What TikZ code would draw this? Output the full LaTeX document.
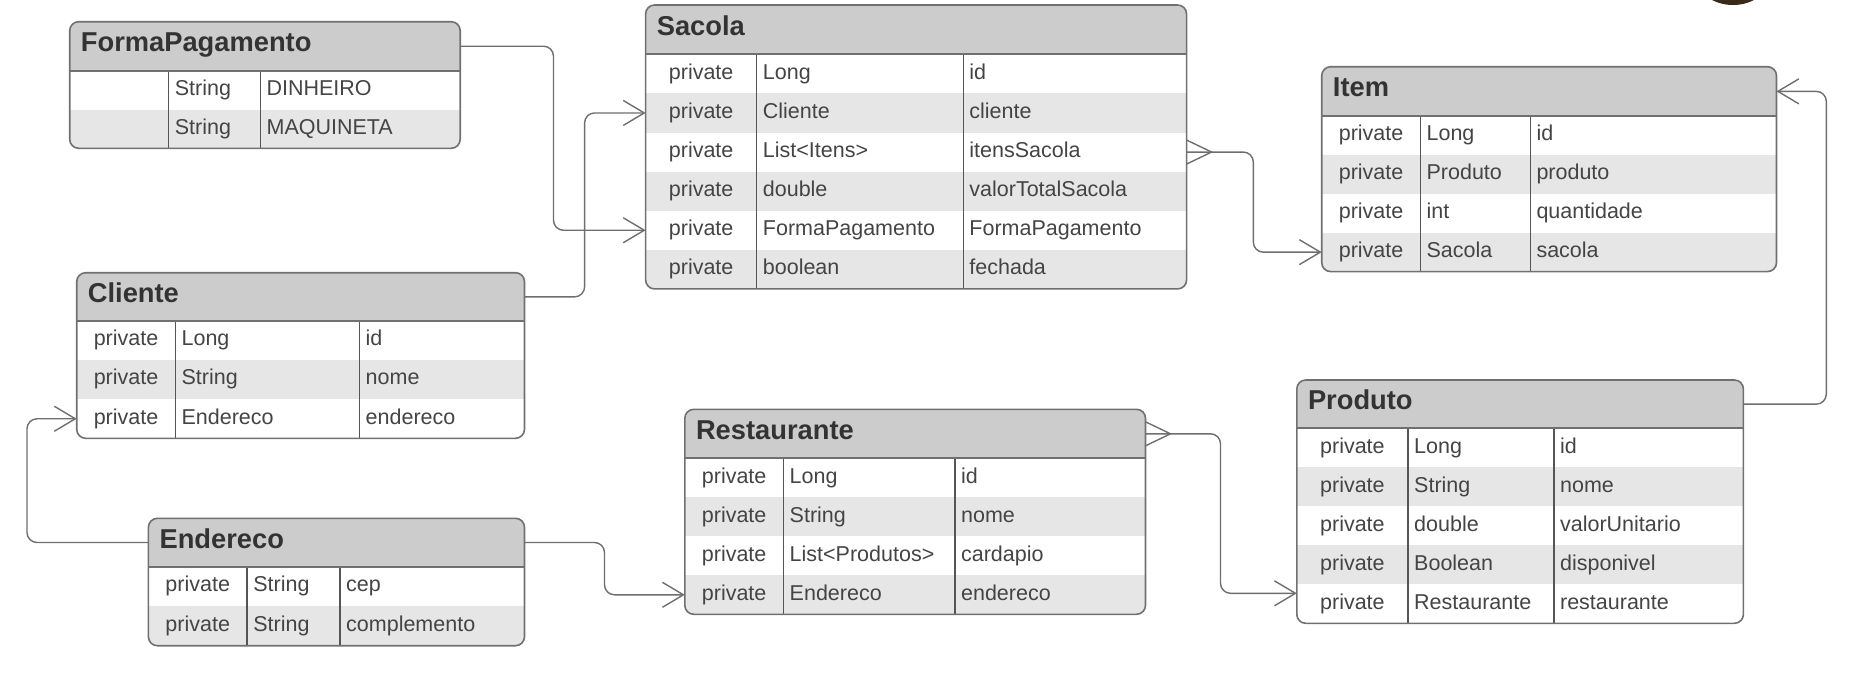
\documentclass[tikz,border=0pt]{standalone}
\usepackage{fontspec}
\setmainfont{Liberation Sans}
\usetikzlibrary{arrows.meta,fit,calc}
\definecolor{hdr}{HTML}{CCCCCC}
\definecolor{stripe}{HTML}{E6E6E6}
\definecolor{framec}{HTML}{707070}
\definecolor{divc}{HTML}{555555}
\definecolor{txt}{HTML}{444444}
\definecolor{ttl}{HTML}{333333}
\definecolor{connc}{HTML}{6E6E6E}
\definecolor{blobc}{HTML}{3A2818}
\tikzset{
  bodytxt/.style={inner sep=0pt, text=txt, font=\fontsize{21.5}{24}\selectfont},
  titletxt/.style={inner sep=0pt, text=ttl, font=\fontsize{27.3}{30}\selectfont\bfseries},
  erframe/.style={draw=framec, line width=1.6pt, rounded corners=9pt, inner sep=0pt},
  connector/.style={draw=connc, line width=1.4pt, rounded corners=10pt},
  barb/.style={-{Straight Barb[length=21pt,width=25pt,line width=1.4pt]}},
  crow/.style={draw=connc, line width=1.4pt}
}
\newcommand\ertable[9]{%
  \gdef\ern{0}%
  \foreach \a/\b/\c in \errows {\pgfmathtruncatemacro\ertmp{\ern+1}\xdef\ern{\ertmp}}%
  \pgfmathsetmacro\erbot{#5+\ern*#6}%
  \coordinate (#1-tl) at (#2,#3);
  \coordinate (#1-br) at (#4,\erbot);
  \begin{scope}
    \clip[rounded corners=9pt] (#1-tl) rectangle (#1-br);
    \fill[hdr] (#2,#3) rectangle (#4,#5);
    \foreach \a/\b/\c [count=\i] in \errows {%
      \pgfmathsetmacro\yt{#5+(\i-1)*#6}%
      \pgfmathsetmacro\yc{#5+(\i-0.5)*#6}%
      \ifodd\i\else\fill[stripe] (#2,\yt) rectangle (#4,\yt+#6);\fi
      \node[bodytxt, anchor=base] (#1-a\i) at ({(#2+#7)/2},\yc+5.3) {\a};
      \node[bodytxt, anchor=base west] (#1-b\i) at (#7+6,\yc+5.3) {\b};
      \node[bodytxt, anchor=base west] (#1-c\i) at (#8+6,\yc+5.3) {\c};
      \coordinate (#1-l\i) at (#2,\yc);
      \coordinate (#1-r\i) at (#4,\yc);
    }
  \end{scope}
  \draw[divc, line width=1.3pt] (#7,#5) -- (#7,\erbot) (#8,#5) -- (#8,\erbot);
  \draw[framec, line width=1.7pt] (#2,#5) -- (#4,#5);
  \node[erframe, fit=(#1-tl)(#1-br)] (#1) {};
  \node[titletxt, anchor=base west] (#1-title) at (#2+11,{(#3+#5)/2+5.5}) {#9};
  \coordinate (#1-hl) at (#2,{(#3+#5)/2});
  \coordinate (#1-hr) at (#4,{(#3+#5)/2});
}
\begin{document}
\begin{tikzpicture}[x=1pt,y=-1pt]
\useasboundingbox (0,0) rectangle (1866,681);
\begin{scope}
  \clip (0,0) rectangle (1866,681);
  \fill[blobc] (1733,-22) ellipse [x radius=36, y radius=27];
\end{scope}

\def\errows{{}/String/DINHEIRO,{}/String/MAQUINETA}
\ertable{fp}{69.7}{21.7}{460.2}{70.7}{38.8}{168.7}{260.4}{FormaPagamento}

\def\errows{private/Long/id,private/Cliente/cliente,private/List<Itens>/itensSacola,private/double/valorTotalSacola,private/FormaPagamento/FormaPagamento,private/boolean/fechada}
\ertable{sacola}{645.6}{5}{1186.6}{54.3}{39.1}{756.7}{963.2}{Sacola}

\def\errows{private/Long/id,private/Produto/produto,private/int/quantidade,private/Sacola/sacola}
\ertable{item}{1321.7}{66.7}{1776.5}{116}{38.9}{1420.4}{1530.3}{Item}

\def\errows{private/Long/id,private/String/nome,private/Endereco/endereco}
\ertable{cliente}{76.7}{272.7}{524.5}{321}{39.1}{175.4}{359.5}{Cliente}

\def\errows{private/String/cep,private/String/complemento}
\ertable{endereco}{148.4}{518.3}{524.5}{566.7}{39.5}{247.1}{340}{Endereco}

\def\errows{private/Long/id,private/String/nome,private/List<Produtos>/cardapio,private/Endereco/endereco}
\ertable{restaurante}{684.8}{409.3}{1145.5}{458.3}{39}{783.5}{954.9}{Restaurante}

\def\errows{private/Long/id,private/String/nome,private/double/valorUnitario,private/Boolean/disponivel,private/Restaurante/restaurante}
\ertable{produto}{1296.8}{380}{1743.4}{428.3}{39}{1408}{1553.9}{Produto}

\coordinate (produto-in) at (1296.8,593.3);

% connectors
\draw[connector, barb] (fp-hr) -- ++(93.3,0) |- (sacola-l5);
\draw[connector, barb] (cliente-hr) -- ++(60.1,0) |- (sacola-l2);
\draw[connector, barb] (sacola-r3) -- ++(66.7,0) |- (item-l4);
\draw[crow] ($(sacola-r3)+(0,-12)$) -- ($(sacola-r3)+(25,0)$) -- ($(sacola-r3)+(0,12)$);
\draw[connector, barb] (endereco-hl) -- ++(-121.4,0) |- (cliente-l3);
\draw[connector, barb] (endereco-hr) -- ++(80,0) |- (restaurante-l4);
\draw[connector, barb] (restaurante-hr) -- ++(75,0) |- (produto-in);
\draw[crow] ($(restaurante-hr)+(0,-12)$) -- ($(restaurante-hr)+(25,0)$) -- ($(restaurante-hr)+(0,12)$);
\draw[connector, barb] (produto-hr) -- ++(82.9,0) |- (item-hr);
\end{tikzpicture}
\end{document}
